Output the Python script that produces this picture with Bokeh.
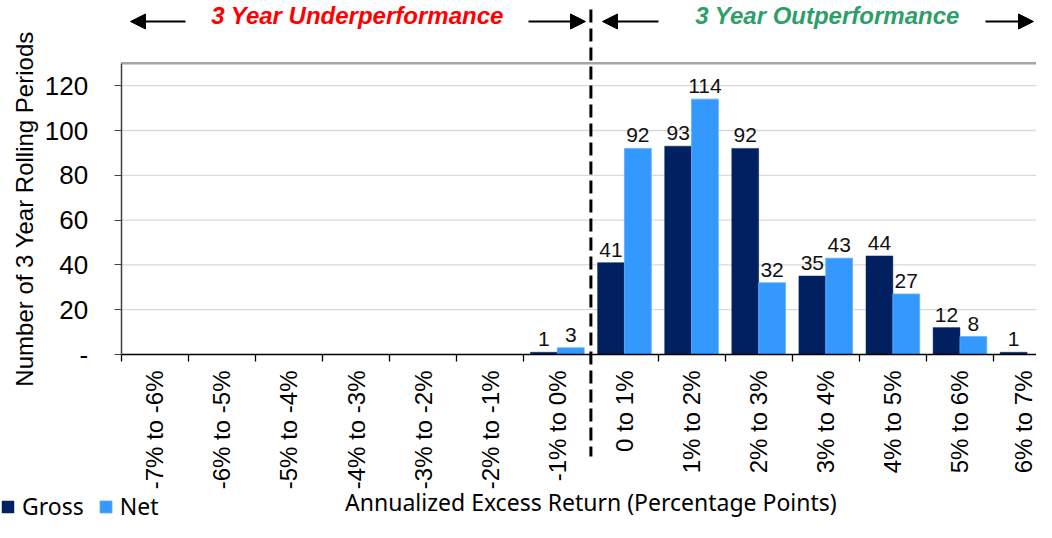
import numpy as np
from bokeh.plotting import figure
from bokeh.models import (ColumnDataSource, FixedTicker, Range1d, Arrow, NormalHead,
                          Legend, LegendItem)
from bokeh.core.properties import value
from bokeh.embed import file_html
from bokeh.resources import INLINE

# ---------------- data ----------------
categories = ["-7% to -6%", "-6% to -5%", "-5% to -4%", "-4% to -3%", "-3% to -2%",
              "-2% to -1%", "-1% to 0%", "0 to 1%", "1% to 2%", "2% to 3%",
              "3% to 4%", "4% to 5%", "5% to 6%", "6% to 7%"]
gross = [0, 0, 0, 0, 0, 0, 1, 41, 93, 92, 35, 44, 12, 1]
net = [0, 0, 0, 0, 0, 0, 3, 92, 114, 32, 43, 27, 8, 0]
y_ticks = [0, 20, 40, 60, 80, 100, 120]
y_tick_labels = ["-", "20", "40", "60", "80", "100", "120"]
series_names = ["Gross", "Net"]
series_colors = ["#002060", "#3399FF"]
region_titles = ["3 Year Underperformance", "3 Year Outperformance"]
region_colors = ["#FF0000", "#2E9E6A"]
x_title = "Annualized Excess Return (Percentage Points)"
y_title = "Number of 3 Year Rolling Periods"

# ---------------- geometry helpers (canvas px -> data) ----------------
PX_X = 67.1
AX_LEFT = 120.7
Y0 = 354.0
PX_Y = 2.24


def dx(X):
    return (X - AX_LEFT) / PX_X - 0.5


def dy(Y):
    return (Y0 - Y) / PX_Y


W, H = 1036, 522
n = len(categories)
idx = np.arange(n)

p = figure(width=W, height=H, output_backend="svg", toolbar_location=None,
           x_range=Range1d(dx(0), dx(W)), y_range=Range1d(dy(H), dy(0)),
           min_border=0, outline_line_color=None, title=None)
p.background_fill_color = "white"
p.xgrid.visible = False
p.ygrid.visible = False

FONT = "Liberation Sans"
FONT2 = "Noto Sans"

# gridlines
grid_y = [t for t in y_ticks if t > 0]
p.segment(x0=[-0.5] * len(grid_y), x1=[n - 0.5] * len(grid_y), y0=grid_y, y1=grid_y,
          line_color="#D9D9D9", line_width=1.3)
# top border
p.segment(x0=[-0.5], x1=[n - 0.5], y0=[130], y1=[130], line_color="#A6A6A6", line_width=2.5)

# bars
src = ColumnDataSource(dict(xg=idx - 0.2, xn=idx + 0.2, gross=gross, net=net))
rg = p.vbar(x="xg", top="gross", width=0.4, source=src, fill_color=series_colors[0],
            line_color=series_colors[0], line_width=0.5)
rn = p.vbar(x="xn", top="net", width=0.4, source=src, fill_color=series_colors[1],
            line_color="#5CB0FF", line_width=0.8)

# data labels
for xs, vals in ((idx - 0.2, gross), (idx + 0.2, net)):
    keep = [i for i, v in enumerate(vals) if v > 0]
    lsrc = ColumnDataSource(dict(x=[xs[i] for i in keep], y=[vals[i] for i in keep],
                                 t=[str(vals[i]) for i in keep]))
    p.text(x="x", y="y", text="t", source=lsrc, text_font=value(FONT),
           text_font_size="21px", text_align="center", text_baseline="bottom",
           y_offset=-6, text_color="#111111")

# dashed divider
p.segment(x0=[6.5], x1=[6.5], y0=[dy(9)], y1=[dy(456)], line_color="black",
          line_width=3, line_dash="13 6")

# region titles
p.text(x=[dx(357), dx(827)], y=[dy(15), dy(15)], text=region_titles,
       text_color=region_colors, text_font=value(FONT), text_font_size="24px",
       text_font_style="bold italic", text_align="center", text_baseline="middle")

# arrows
ay = dy(21)
for x0, x1 in ((185, 130), (528, 585), (658, 602), (985, 1033)):
    p.add_layout(Arrow(end=NormalHead(size=15, fill_color="black", line_color="black"),
                       x_start=dx(x0), y_start=ay, x_end=dx(x1), y_end=ay,
                       line_color="black", line_width=2))

# x axis
xa = p.xaxis[0]
xa.fixed_location = 0
xa.bounds = (-0.5, n - 0.5)
xa.ticker = FixedTicker(ticks=list(range(n)), minor_ticks=[i - 0.5 for i in range(n + 1)])
xa.major_label_overrides = {i: c for i, c in enumerate(categories)}
xa.major_label_orientation = np.pi / 2
xa.major_tick_out = 0
xa.major_tick_in = 0
xa.minor_tick_out = 7
xa.minor_tick_in = 0
xa.minor_tick_line_color = "black"
xa.minor_tick_line_width = 1.3
xa.axis_line_color = "black"
xa.axis_line_width = 1.5
xa.major_label_standoff = 9
xa.major_label_text_font = FONT
xa.major_label_text_font_size = "24px"
xa.major_label_text_color = "black"

# x axis title (placed explicitly, centred on the axis extent)
p.text(x=[(n - 1) / 2], y=[dy(501)], text=[x_title], text_font=value(FONT2),
       text_font_size="23px", text_align="center", text_baseline="middle",
       text_color="black")

# y axis
ya = p.yaxis[0]
ya.fixed_location = -0.5
ya.bounds = (0, 130)
ya.ticker = FixedTicker(ticks=y_ticks)
ya.major_label_overrides = dict(zip(y_ticks, y_tick_labels))
ya.major_tick_out = 7
ya.major_tick_in = 0
ya.major_tick_line_color = "#404040"
ya.minor_tick_line_color = None
ya.axis_line_color = "#404040"
ya.axis_line_width = 1.5
ya.major_label_standoff = 26
ya.major_label_text_font = FONT
ya.major_label_text_font_size = "26px"
ya.major_label_text_color = "black"
ya.axis_label = y_title
ya.axis_label_text_font = FONT
ya.axis_label_text_font_size = "24px"
ya.axis_label_text_font_style = "normal"
ya.axis_label_text_color = "black"
ya.axis_label_standoff = 4

# legend
legend = Legend(items=[LegendItem(label=series_names[0], renderers=[rg]),
                       LegendItem(label=series_names[1], renderers=[rn])],
                orientation="horizontal", location=(0, 0),
                background_fill_alpha=0, border_line_color=None,
                padding=0, margin=0, spacing=14, label_standoff=7,
                glyph_width=15, glyph_height=15,
                label_text_font=FONT2, label_text_font_size="23px",
                label_text_color="black")
p.add_layout(legend)

open("out.html", "w").write(file_html(p, INLINE))
